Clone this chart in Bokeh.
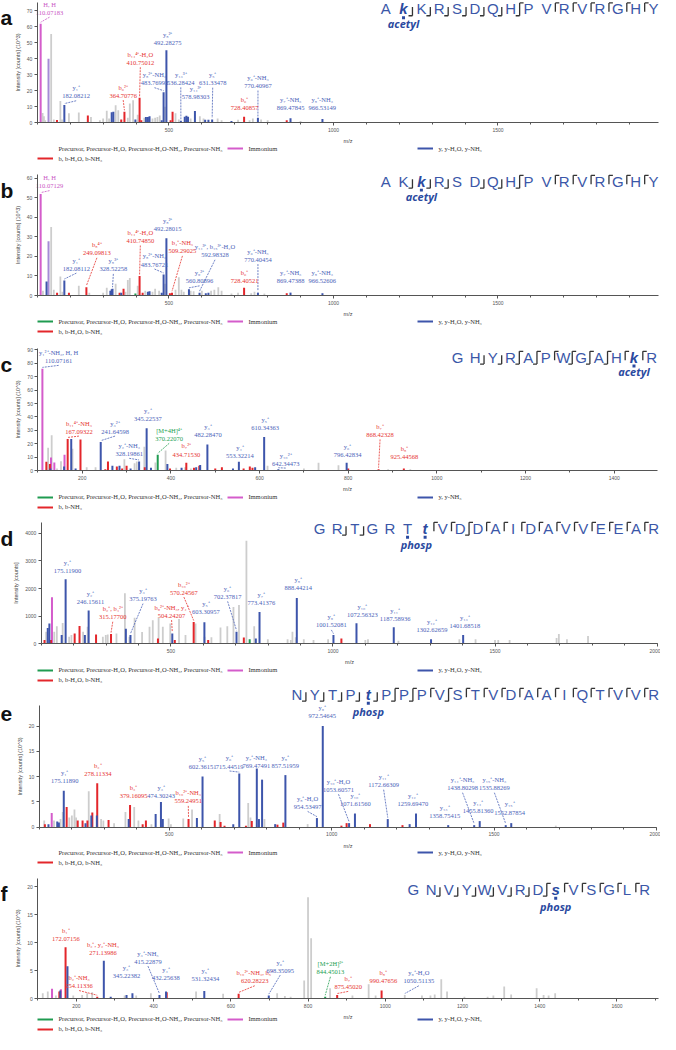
import numpy as np
from bokeh.plotting import figure
from bokeh.models import (Range1d, SingleIntervalTicker, Legend, LegendItem, ColumnDataSource)
from bokeh.layouts import column
from bokeh.embed import file_html
from bokeh.resources import INLINE
from bokeh.core.properties import value

# ======================= DATA =======================
# ion codes: g = unassigned, i = immonium, p = precursor, b = b ions, y = y ions, m = mixed
# ---------- panel a ----------
a_mz = [110.07, 116, 120, 124, 134, 142, 150, 159.7, 170, 175, 182.08, 196, 226, 253.5, 263, 290, 300,
        311, 318, 326, 331, 338, 346, 355, 364.71, 375, 381, 391, 398, 405, 410.75, 416, 425, 430, 436,
        441, 450, 458, 465, 472, 478, 483.77, 488, 492.28, 505, 511, 520, 530, 536.28, 548, 553, 558,
        566, 578.98, 594, 605, 610, 620, 631.33, 648, 660, 690, 710, 728.41, 745, 755, 770.41, 780,
        800, 858, 869.48, 900, 966.53]
a_int = [62, 6, 4, 1.5, 40, 55.5, 2, 1.6, 13.6, 2, 11, 5.8, 6.4, 4.5, 3.5, 1.5, 2.5,
         7.4, 2.5, 6.5, 6.8, 10.9, 7.8, 2, 6.8, 3, 11.9, 14, 2, 5, 15.6, 1.5, 3, 3.5, 3.5,
         4, 2.5, 3, 3.5, 4.5, 1.5, 19.1, 10, 45.3, 1.5, 6.8, 5.8, 2, 1.2, 3.7, 4.3, 3.7,
         2.5, 7.2, 4, 2.5, 1.8, 1.8, 2, 2.5, 1.5, 1, 1.8, 3.7, 1.5, 2.5, 3, 2,
         1.5, 1.5, 2.7, 1, 2.3]
a_ion = ["i", "g", "g", "g", "m", "g", "g", "b", "g", "g", "y", "g", "g", "b", "g", "g", "g",
         "g", "g", "y", "y", "g", "g", "b", "b", "g", "g", "g", "y", "g", "b", "b", "g", "y", "y",
         "y", "g", "g", "g", "g", "y", "y", "g", "y", "b", "b", "g", "g", "y", "y", "y", "y",
         "g", "y", "g", "g", "y", "y", "y", "g", "g", "y", "g", "b", "g", "g", "y", "g",
         "g", "b", "y", "g", "y"]
a_lab_text = ["H, H\n110.07183", "y₁⁺\n182.08212", "b₆²⁺\n364.70776", "b₁₄⁴⁺-H₂O\n410.75012",
              "y₈²⁺-NH₃\n483.76993", "y₈²⁺\n492.28275", "y₁₃³⁺\n536.28424", "y₁₄³⁺\n578.98303",
              "y₅⁺\n631.33478", "b₆⁺\n728.40857", "y₆⁺-NH₃\n770.40967", "y₇⁺-NH₃\n869.47845",
              "y₈⁺-NH₃\n966.53149"]
a_lab_mz = [110.07, 182.08, 364.71, 410.75, 483.77, 492.28, 536.28, 578.98, 631.33, 728.41, 770.41, 869.48, 966.53]
a_lab_ion = ["i", "y", "b", "b", "y", "y", "y", "y", "y", "b", "y", "y", "y"]
a_seq = "AkKRSDQHPVRVRGHY"
a_cuts = ".bbbbbbx.yyyyyy"
a_mod_name = "acetyl"

# ---------- panel b ----------
b_mz = [110.07, 117, 128, 134, 142, 150, 160, 170, 176, 182.08, 196, 226, 249.10, 258, 300, 311, 322,
        326, 328.52, 338, 350, 355, 362, 368, 375, 381, 398, 405, 410.75, 420, 428, 436, 441, 450,
        458, 470, 478, 483.77, 488, 492.28, 503, 509.29, 520, 530, 538, 545, 560.81, 566, 575,
        592.98, 600, 612, 620, 628, 638, 650, 660, 690, 710, 728.41, 750, 760, 770.45, 790, 858,
        869.47, 966.53]
b_int = [51.8, 2.5, 7.2, 27.7, 35, 3, 1.5, 9.7, 2, 7.7, 1.5, 5, 4.3, 1.5, 1.5, 4, 2.5,
         3.2, 3.5, 6, 1.5, 1.5, 3.5, 2, 8, 9, 1, 5, 10, 1.5, 2.5, 2, 2.2, 2,
         3.5, 2.5, 1.5, 10.8, 6, 29.3, 1.2, 1.5, 3, 9.3, 3, 2, 3.2, 2.5, 2.2,
         1.5, 2.5, 1.2, 1.5, 2.5, 3, 4.3, 2.5, 1, 1.5, 4, 1.2, 2, 1.5, 1, 1.2,
         1.5, 1.2]
b_ion = ["i", "g", "y", "m", "g", "g", "b", "g", "g", "y", "b", "g", "b", "g", "g", "g", "y",
         "y", "y", "g", "b", "y", "b", "g", "g", "g", "p", "g", "b", "b", "g", "y", "y", "g",
         "g", "g", "y", "y", "g", "y", "b", "b", "g", "g", "g", "g", "y", "g", "g",
         "y", "g", "y", "y", "g", "g", "g", "g", "g", "g", "b", "g", "g", "y", "g", "b",
         "y", "y"]
b_lab_text = ["H, H\n110.07129", "y₁⁺\n182.08112", "b₈⁴⁺\n249.09813", "y₈³⁺\n328.52258",
              "b₁₄⁴⁺-H₂O\n410.74850", "y₈²⁺-NH₃\n483.76721", "y₈²⁺\n492.28015", "b₄⁺-NH₃\n509.29025",
              "y₉²⁺\n560.80896", "y₁₄³⁺, b₁₅³⁺-H₂O\n592.98328", "b₆⁺\n728.40521",
              "y₆⁺-NH₃\n770.40454", "y₇⁺-NH₃\n869.47388", "y₈⁺-NH₃\n966.52606"]
b_lab_mz = [110.07, 182.08, 249.10, 328.52, 410.75, 483.77, 492.28, 509.29, 560.81, 592.98, 728.41,
            770.45, 869.47, 966.53]
b_lab_ion = ["i", "y", "b", "y", "b", "y", "y", "b", "y", "y", "b", "y", "y", "y"]
b_seq = "AKkRSDQHPVRVRGHY"
b_cuts = ".bbb.bbx.yyyyyy"
b_mod_name = "acetyl"

# ---------- panel c ----------
c_mz = [110.07, 119, 123, 127, 128, 129.5, 131, 137, 143, 152, 159, 160, 167.09, 175.12, 178, 185,
        196, 210, 230, 241.65, 252, 258, 268, 278, 284, 290, 295, 300, 309, 318, 323, 328.20, 340,
        341, 345.23, 355, 365, 370.22, 388, 392, 398, 412, 424, 432, 434.72, 445, 452, 457, 464,
        466, 482.28, 500, 515, 540, 553.32, 564, 578, 584, 590, 610.34, 618, 642.34, 700, 733,
        778, 796.43, 800, 868.42, 890, 925.45, 940]
c_int = [75.9, 6.6, 17, 4.9, 1.5, 9.7, 26.3, 6, 1.5, 7, 3, 11.7, 23.6, 23.6, 16.3, 1.5,
         23.1, 2.5, 2.5, 21.2, 1, 6.8, 3.5, 3, 3.5, 1.5, 8.5, 3.6, 1.5, 5.5, 6.8, 6.8, 17.8,
         2.5, 31.6, 2, 6, 11.7, 15, 4.9, 1.5, 2, 2, 2.5, 5.8, 1.5, 2, 2.5, 3.5,
         4.1, 19.5, 1.5, 2.5, 1.5, 6.6, 1.5, 3, 2, 2.5, 25, 3.5, 1, 1.5, 5.8,
         4, 5.8, 1.5, 1, 1, 1.5, 1]
c_ion = ["i", "b", "g", "b", "y", "i", "g", "i", "g", "g", "y", "i", "b", "y", "g", "y",
         "b", "g", "g", "y", "b", "b", "y", "b", "y", "b", "g", "b", "y", "g", "g", "y", "g",
         "b", "y", "y", "g", "p", "g", "y", "b", "g", "y", "g", "b", "g", "b", "y", "b",
         "y", "y", "b", "b", "y", "y", "b", "b", "b", "y", "y", "g", "y", "g", "g",
         "g", "y", "b", "b", "g", "b", "g"]
c_lab_text = ["y₁²⁺-NH₃, H, H\n110.07161", "b₁₁⁴⁺-NH₃\n167.09322", "y₃²⁺\n241.64598",
              "y₂⁺-NH₃\n328.19861", "y₂⁺\n345.22537", "[M+4H]⁴⁺\n370.22070", "b₇²⁺\n434.71530",
              "y₃⁺\n482.28470", "y₄⁺\n553.32214", "y₅⁺\n610.34363", "y₁₀²⁺\n642.34473",
              "y₆⁺\n796.42834", "b₇⁺\n868.42328", "b₈⁺\n925.44568"]
c_lab_mz = [110.07, 167.09, 241.65, 328.20, 345.23, 370.22, 434.72, 482.28, 553.32, 610.34, 642.34,
            796.43, 868.42, 925.45]
c_lab_ion = ["y", "b", "y", "y", "y", "p", "b", "y", "y", "y", "y", "y", "b", "b"]
c_seq = "GHYRAPWGAHkR"
c_cuts = ".bbxxyxxxyy"
c_mod_name = "acetyl"

# ---------- panel d ----------
d_mz = [110, 115, 120, 125, 130, 133, 140, 148, 163, 166, 175.12, 186, 193, 203, 218, 229, 234.5,
        243, 246.16, 269, 290, 299, 305, 315.18, 332, 358, 361, 372, 375.20, 388, 411, 434, 444,
        460, 462, 475, 498, 504.24, 512, 525, 545, 570.25, 576, 603.31, 604, 615, 625, 653, 674,
        693, 702.38, 710, 725, 733, 743, 757, 762, 773.41, 799, 860, 870, 875, 885, 888.44, 910,
        940, 985, 1001.52, 1026, 1072.56, 1100, 1108, 1187.59, 1202, 1302.63, 1390, 1401.69, 1440,
        1500, 1510, 1545, 1690, 1697, 1722, 1787]
d_int = [140, 440, 580, 740, 140, 1690, 440, 640, 320, 760, 2340, 260, 320, 380, 650, 440, 320,
         620, 1210, 345, 260, 320, 345, 356, 380, 1830, 546, 260, 320, 950, 430, 620, 860,
         200, 950, 620, 740, 380, 140, 900, 320, 795, 740, 784, 260, 140, 240, 594, 640,
         1330, 440, 1410, 230, 3730, 166, 640, 200, 1150, 170, 170, 140, 440, 240, 1660, 170,
         140, 170, 320, 200, 750, 140, 170, 606, 120, 166, 170, 320, 170,
         140, 140, 140, 215, 356, 170, 285]
d_ion = ["b", "g", "y", "y", "b", "i", "g", "g", "y", "g", "y", "g", "g", "b", "b", "g", "y",
         "g", "y", "b", "g", "g", "g", "b", "g", "g", "y", "g", "y", "g", "g", "g", "g",
         "b", "g", "g", "g", "y", "b", "g", "g", "b", "g", "y", "g", "b", "g", "g", "g",
         "g", "y", "g", "b", "g", "p", "g", "y", "y", "g", "g", "g", "g", "g", "y", "g",
         "g", "g", "y", "b", "y", "g", "g", "y", "g", "y", "g", "y", "g",
         "g", "g", "g", "g", "g", "g", "g"]
d_lab_text = ["y₁⁺\n175.11900", "y₂⁺\n246.15611", "b₂⁺, b₄²⁺\n315.17700", "y₃⁺\n375.19763",
              "b₉²⁺-NH₃, y₄⁺\n504.24207", "b₁₀²⁺\n570.24567", "y₅⁺\n603.30957", "y₆⁺\n702.37817",
              "y₇⁺\n773.41376", "y₈⁺\n888.44214", "y₉⁺\n1001.52081", "y₁₀⁺\n1072.56323",
              "y₁₁⁺\n1187.58936", "y₁₂⁺\n1302.62659", "y₁₃⁺\n1401.68518"]
d_lab_mz = [175.12, 246.16, 315.18, 375.20, 504.24, 570.25, 603.31, 702.38, 773.41, 888.44, 1001.52,
            1072.56, 1187.59, 1302.63, 1401.69]
d_lab_ion = ["y", "y", "b", "y", "b", "b", "y", "y", "y", "y", "y", "y", "y", "y", "y"]
d_seq = "GRTGRTtVDDAIDAVVEEAR"
d_cuts = ".bb...yyxyyyyyyyyyy"
d_mod_name = "phosp"

# ---------- panel e ----------
e_mz = [115, 117, 128, 138, 145, 155, 160, 165, 172, 175.12, 184, 192, 200, 208, 213, 218, 233, 242,
        248, 252, 260, 263, 277, 278.11, 290, 297, 313, 330, 365, 375, 379.16, 392, 405, 418, 428,
        445, 458, 474.30, 480, 498, 505, 543, 559.25, 570, 585, 602.36, 640, 655, 658, 670, 697,
        715.45, 736, 743, 750, 754, 769.47, 776, 785.7, 793, 826, 833, 851, 857.52, 926, 954.53,
        972.55, 1030, 1046, 1053.61, 1071.62, 1118, 1172.66, 1218, 1240, 1259.69, 1358.75,
        1438.80, 1455.81, 1535.88, 1552.88, 1690]
e_int = [1.3, 0.6, 0.6, 2.8, 1.3, 1.1, 0.9, 1.6, 3, 7.2, 4, 1.9, 2.3, 3.5, 1.9, 1.3, 1.3, 0.8,
         1.3, 7.1, 2.3, 2.9, 2.3, 8.7, 1.6, 1.3, 1.4, 0.8, 3, 1.6, 4.4, 4, 1.3, 0.6, 1.3,
         0.6, 2.6, 5, 1.6, 1.7, 0.6, 1.7, 1.6, 3.5, 1.8, 10, 1.3, 2.6, 1, 0.3, 0.6,
         10.6, 0.3, 4.8, 1.9, 1.2, 11.6, 1.6, 9.4, 1.6, 0.6, 0.5, 0.9, 10.3, 0.6, 1.8,
         20, 0.3, 0.8, 0.8, 2.7, 0.6, 1.6, 0.4, 0.6, 2.7, 0.4,
         0.4, 1.2, 0.4, 0.8, 0.3]
e_ion = ["g", "b", "y", "i", "g", "y", "y", "g", "g", "y", "b", "g", "g", "g", "g", "b", "b", "y",
         "b", "g", "y", "b", "y", "b", "g", "g", "b", "g", "g", "y", "b", "g", "g", "b", "b",
         "g", "y", "y", "y", "g", "g", "g", "b", "g", "y", "y", "b", "g", "b", "b", "y",
         "y", "b", "g", "g", "b", "y", "y", "y", "g", "y", "b", "b", "y", "g", "y",
         "y", "b", "b", "y", "y", "b", "y", "b", "y", "y", "y",
         "y", "y", "y", "y", "g"]
e_lab_text = ["y₁⁺\n175.11890", "b₂⁺\n278.11334", "b₃⁺\n379.16095", "y₃⁺\n474.30243",
              "b₁₀²⁺-NH₃\n559.24951", "y₅⁺\n602.36151", "y₆⁺\n715.44519", "y₇⁺-NH₃\n769.47491",
              "y₈⁺\n857.51959", "y₈⁺-H₂O\n954.53497", "y₉⁺\n972.54645", "y₁₀⁺-H₂O\n1053.60571",
              "y₁₀⁺\n1071.61560", "y₁₁⁺\n1172.66309", "y₁₂⁺\n1259.69470", "y₁₃⁺\n1358.75415",
              "y₁₄⁺-NH₃\n1438.80298", "y₁₄⁺\n1455.81360", "y₁₅⁺-NH₃\n1535.88269", "y₁₅⁺\n1552.87854"]
e_lab_mz = [175.12, 278.11, 379.16, 474.30, 559.25, 602.36, 715.45, 769.47, 857.52, 954.53, 972.55,
            1053.61, 1071.62, 1172.66, 1259.69, 1358.75, 1438.80, 1455.81, 1535.88, 1552.88]
e_lab_ion = ["y", "b", "b", "y", "b", "y", "y", "y", "y", "y", "y", "y", "y", "y", "y", "y",
             "y", "y", "y", "y"]
e_seq = "NYTPtPPPVSTVDAAIQTVVR"
e_cuts = "bbbbbxxyxyyyyyyyyyyy"
e_mod_name = "phosp"

# ---------- panel f ----------
f_mz = [113, 126, 137, 147, 156, 158.5, 160, 172.07, 177, 192, 215, 228, 241, 254.11, 271.14, 289,
        325, 330, 345.22, 355, 393, 415.23, 432.26, 434, 510, 531.32, 580, 620.28, 698.35, 720,
        740, 755, 790, 800, 808, 844.45, 857, 875.45, 915, 957, 975, 990.48, 1050.51, 1095, 1117,
        1128, 1145, 1160, 1205, 1265, 1280, 1308, 1326, 1392, 1410, 1423, 1440]
f_int = [1, 1.3, 1.8, 0.6, 1.3, 1.5, 1.7, 9.2, 5.8, 0.6, 0.7, 1, 1.2, 0.4, 6.8, 0.4,
         0.6, 0.7, 1, 0.6, 1, 0.7, 1.3, 1.2, 1.3, 1.4, 0.9, 0.9, 0.6, 1,
         0.5, 0.4, 3.3, 18.1, 10.8, 0.4, 1.9, 0.7, 0.6, 2.6, 0.6, 1.5, 0.7, 0.6, 0.6,
         0.8, 3.5, 1.3, 0.4, 0.4, 0.6, 2.2, 0.8, 1.9, 0.7, 0.6, 1]
f_ion = ["g", "g", "i", "g", "b", "y", "i", "b", "y", "g", "g", "g", "g", "b", "y", "y",
         "g", "y", "y", "g", "g", "y", "y", "b", "g", "y", "g", "b", "y", "g",
         "g", "g", "g", "g", "g", "p", "g", "b", "g", "g", "g", "b", "g", "g", "g",
         "g", "g", "g", "g", "g", "g", "g", "g", "g", "g", "g", "g"]
f_lab_text = ["b₁⁺\n172.07156", "b₂⁺-NH₃\n254.11336", "b₂⁺, y₂⁺-NH₃\n271.13986", "y₃⁺\n345.22382",
              "y₃⁺-NH₃\n415.22879", "y₄⁺\n432.25638", "y₅⁺\n531.32434", "b₁₀²⁺-NH₃, b₅⁺\n620.28223",
              "y₆⁺\n698.35095", "[M+2H]²⁺\n844.45013", "b₇⁺\n875.45020", "b₈⁺\n990.47656",
              "y₉⁺-H₂O\n1050.51135"]
f_lab_mz = [172.07, 254.11, 271.14, 345.22, 415.23, 432.26, 531.32, 620.28, 698.35, 844.45, 875.45,
            990.48, 1050.51]
f_lab_ion = ["b", "b", "b", "y", "y", "y", "y", "b", "y", "p", "b", "b", "y"]
f_seq = "GNVYWVRDsVSGLR"
f_cuts = ".bbbbbbxyyyyy"
f_mod_name = "phosp"

# ======================= LAYOUT (label anchors, panel geometry) =======================
a_lab_x = [137, 218, 361, 413, 456, 496, 536, 581, 633, 730, 770.6, 870, 966]
a_lab_y = [67, 14.6, 15, 35.6, 22.8, 48, 23, 14, 22.8, 7.2, 21, 7.2, 7.2]
a_lab_link = [1, 1, 1, 1, 1, 0, 1, 0, 1, 0, 1, 0, 0]
b_lab_x = [137, 218.6, 281, 331, 413, 456, 496, 541, 593, 640, 730, 770.5, 870, 966]
b_lab_y = [54.3, 12.2, 20, 11.8, 26.3, 14.3, 32.2, 21, 5.7, 19, 6, 16.8, 6, 6]
b_lab_link = [1, 1, 1, 1, 1, 1, 0, 1, 1, 1, 0, 1, 0, 0]
c_lab_x = [146.7, 192.6, 274, 306, 348, 396, 434.8, 483.7, 555.6, 612.6, 659, 798.5, 871.8, 926.7]
c_lab_y = [79.6, 26.8, 26.8, 10.2, 36, 21.4, 9.7, 24.3, 8.5, 29.2, 2.9, 9.2, 24.3, 7.8]
c_lab_link = [1, 1, 1, 1, 0, 1, 0, 0, 0, 0, 1, 0, 1, 0]
d_lab_x = [180.8, 252, 320.6, 414, 502, 540, 608, 675, 779, 893, 995, 1090.6, 1192, 1305.5, 1407]
d_lab_y = [2540, 1390, 855, 1510, 915, 1746, 1033, 1590, 1354, 1900, 560, 938, 796, 380, 522]
d_lab_link = [0, 0, 1, 1, 1, 1, 0, 1, 0, 0, 1, 0, 0, 0, 0]
e_lab_x = [178, 280, 390, 475, 558.5, 602.5, 685.6, 768, 857, 926, 971, 1021, 1073, 1160, 1250,
           1348, 1403, 1451, 1501, 1548]
e_lab_y = [8.5, 9.9, 5.5, 5.5, 4.5, 11.3, 11.4, 11.5, 11.5, 3.4, 21.3, 6.8, 3.9, 7.7, 3.9, 1.6,
           7.1, 2.6, 7.1, 2.3]
e_lab_link = [0, 0, 0, 0, 1, 0, 1, 0, 0, 1, 0, 1, 0, 1, 0, 0, 1, 0, 1, 0]
f_lab_x = [172.8, 207, 269, 330, 385.4, 432, 534, 662, 728, 858, 904, 995, 1087]
f_lab_y = [10.1, 1.75, 7.6, 3.5, 6.1, 3.2, 3.0, 2.6, 4.5, 4.2, 1.6, 2.6, 2.6]
f_lab_link = [0, 1, 0, 0, 1, 0, 0, 1, 1, 1, 1, 0, 1]

W = 660
PEAK_COL = {"g": "#cdcdcd", "m": "#a58cd6", "i": "#d45ccb", "p": "#1f9b50", "b": "#e3262b", "y": "#3d55ab"}
TXT_COL = {"y": "#4a62b8", "b": "#e6332f", "i": "#c955c4", "p": "#22a050"}
PREC = "Precursor, Precursor-H₂O, Precursor-H₂O-NH₃, Precursor-NH₃"
SEQ_COL = "#3b57a8"
MOD_COL = "#2b4aa0"


def make_panel(tag, data, labels, seq_info, geo, y_label, leg_y, leg_b):
    mz, inten, ion = data
    lab_text, lab_mz, lab_ion, lab_x, lab_y, lab_link = labels
    seq, cuts, mod_name = seq_info
    (ref_h, Hp, x0, k, x_end, x_step, YT, YB, y_top, y_step,
     tag_y, seq_x0, seq_x1, seq_y, mod_dy, leg_row) = geo
    s = Hp / ref_h
    dpp = y_top / (YB - YT)
    p = figure(width=W, height=Hp,
               x_range=Range1d((2 - x0) / k, (672 - x0) / k),
               y_range=Range1d(-(ref_h - YB) * dpp, y_top + YT * dpp),
               output_backend="svg", toolbar_location=None, title=None, min_border=0)
    # reference-pixel coordinate system for annotations (x right, y down)
    p.extra_x_ranges = {"rx": Range1d(2, 672)}
    p.extra_y_ranges = {"ry": Range1d(ref_h, 0)}
    p.xgrid.grid_line_color = None
    p.ygrid.grid_line_color = None
    p.outline_line_color = None

    mz_a = np.asarray(mz, dtype=float)
    in_a = np.asarray(inten, dtype=float)
    ion_a = np.asarray(ion)
    rend = {}
    for kk in ["g", "m", "i", "p", "b", "y"]:
        sel = ion_a == kk
        src = ColumnDataSource(dict(x=mz_a[sel], y=in_a[sel]))
        rend[kk] = p.segment(x0="x", y0=0, x1="x", y1="y", source=src,
                             line_color=PEAK_COL[kk], line_width=1.8 if kk == "g" else 2.0)

    # connectors between labels and peaks
    pad = 0.012 * y_top
    cx0, cy0, cx1, cy1, cc = [], [], [], [], []
    for m, kk, lx, ly, lk in zip(lab_mz, lab_ion, lab_x, lab_y, lab_link):
        if lk:
            top = in_a[int(np.argmin(np.abs(mz_a - m)))]
            cx0.append(lx); cy0.append(ly - pad); cx1.append(m); cy1.append(top + pad)
            cc.append(TXT_COL[kk])
    p.segment(x0=cx0, y0=cy0, x1=cx1, y1=cy1, line_color=cc, line_width=0.8, line_dash="2 1")

    lsrc = ColumnDataSource(dict(x=lab_x, y=lab_y, t=lab_text, c=[TXT_COL[kk] for kk in lab_ion]))
    p.text("x", "y", "t", source=lsrc, text_color="c", text_align="center",
           text_baseline="bottom", text_font=value("Liberation Serif"),
           text_font_size="6.5px", text_line_height=1.15)

    # peptide sequence with fragment markers
    n = len(seq)
    step = (seq_x1 - seq_x0) / (n - 1)
    xs = [seq_x0 + i * step for i in range(n)]
    yc = seq_y
    plain = [i for i, ch in enumerate(seq) if not ch.islower()]
    mods = [i for i, ch in enumerate(seq) if ch.islower()]
    kw = dict(x_range_name="rx", y_range_name="ry")
    p.text(x=[xs[i] for i in plain], y=[yc] * len(plain), text=[seq[i] for i in plain],
           text_font=value("Liberation Sans"), text_font_size="15px", text_align="center",
           text_baseline="middle", text_color=SEQ_COL, **kw)
    p.text(x=[xs[i] for i in mods], y=[yc] * len(mods), text=[seq[i] for i in mods],
           text_font=value("Liberation Sans"), text_font_size="15px",
           text_font_style="bold italic", text_align="center", text_baseline="middle",
           text_color=MOD_COL, **kw)
    bx0, by0, bx1, by1 = [], [], [], []
    for i, c in enumerate(cuts):
        xg = (xs[i] + xs[i + 1]) / 2
        if c == "b":
            bx0 += [xg, xg]; by0 += [yc - 2, yc + 7]; bx1 += [xg, xg - 4]; by1 += [yc + 7, yc + 7]
        elif c == "y":
            bx0 += [xg, xg]; by0 += [yc - 6, yc - 6]; bx1 += [xg, xg + 4]; by1 += [yc + 3, yc - 6]
        elif c == "x":
            bx0 += [xg, xg, xg]; by0 += [yc - 6, yc - 6, yc + 7]
            bx1 += [xg, xg + 4, xg - 4]; by1 += [yc + 7, yc - 6, yc + 7]
    p.segment(x0=bx0, y0=by0, x1=bx1, y1=by1, line_color="#333333", line_width=1.3, **kw)
    mk = list(mods)
    if tag == "d":
        mk = [mods[0] - 1, mods[0]]
    p.segment(x0=[xs[i] for i in mk], y0=[yc + 7.5] * len(mk), x1=[xs[i] for i in mk],
              y1=[yc + 10.5] * len(mk), line_color=MOD_COL, line_width=3, **kw)
    p.text(x=[float(np.mean([xs[i] for i in mk]))], y=[yc + mod_dy], text=[mod_name],
           text_font=value("Open Sans"), text_font_size="11px", text_font_style="bold italic",
           text_align="center", text_baseline="middle", text_color=MOD_COL, **kw)

    # panel tag (baseline position)
    p.text(x=[2], y=[tag_y], text=[tag], text_font=value("Liberation Sans"),
           text_font_size="21px", text_font_style="bold", text_align="left",
           text_baseline="alphabetic", text_color="#111111", **kw)

    # axes drawn at data locations
    p.xaxis.fixed_location = 0
    p.yaxis.fixed_location = 100
    p.xaxis.bounds = (100, x_end)
    p.yaxis.bounds = (0, y_top)
    p.xaxis.ticker = SingleIntervalTicker(interval=x_step, num_minor_ticks=x_step // 100)
    p.yaxis.ticker = SingleIntervalTicker(interval=y_step, num_minor_ticks=0)
    p.xaxis.axis_label = "m/z"
    p.yaxis.axis_label = y_label
    for ax in p.axis:
        ax.axis_line_color = "#555555"
        ax.major_tick_line_color = "#555555"
        ax.minor_tick_line_color = "#555555"
        ax.major_label_text_font = "Liberation Sans"
        ax.major_label_text_font_size = "5px"
        ax.major_label_text_color = "#555555"
        ax.axis_label_text_font = "Liberation Sans"
        ax.axis_label_text_font_size = "5.5px"
        ax.axis_label_text_font_style = "normal"
        ax.axis_label_text_color = "#444444"
        ax.major_tick_out = 3
        ax.major_tick_in = 0
        ax.minor_tick_out = 2
        ax.minor_tick_in = 0
        ax.major_label_standoff = 2
        ax.axis_label_standoff = 3
    p.yaxis.minor_tick_line_color = None

    # legend below the x axis
    items = [LegendItem(label=PREC, renderers=[rend["p"]]),
             LegendItem(label="Immonium", renderers=[rend["i"]]),
             LegendItem(label=leg_y, renderers=[rend["y"]]),
             LegendItem(label=leg_b, renderers=[rend["b"]])]
    leg_top = leg_row * s - 6
    leg_bottom = leg_top + 22
    leg = Legend(items=items, orientation="horizontal", ncols=3,
                 location=((42 - 2) * 0.985 - 2, Hp - leg_bottom),
                 border_line_color=None, background_fill_alpha=0,
                 label_text_font="Liberation Serif", label_text_font_size="6.5px",
                 label_text_color="#333333", glyph_width=16, glyph_height=8,
                 label_height=8, label_standoff=5, spacing=2, padding=2, margin=0,
                 label_width=167)
    p.add_layout(leg)
    return p


YL3 = "Intensity [counts] (10^3)"
LY = "y, y-H₂O, y-NH₃"
LB = "b, b-H₂O, b-NH₃"
# geo: ref_h, Hp, x0, k, x_end, x_step, YT, YB, y_top, y_step, tag_y, seq_x0, seq_x1, seq_y, mod_dy, leg_row
pa = make_panel("a", (a_mz, a_int, a_ion),
                (a_lab_text, a_lab_mz, a_lab_ion, a_lab_x, a_lab_y, a_lab_link),
                (a_seq, a_cuts, a_mod_name),
                (170, 167, 6, 0.334, 1988, 500, 1.7, 124.3, 75.5, 10, 17, 393, 665, 8.5, 15, 149),
                YL3, LY, LB)
pb = make_panel("b", (b_mz, b_int, b_ion),
                (b_lab_text, b_lab_mz, b_lab_ion, b_lab_x, b_lab_y, b_lab_link),
                (b_seq, b_cuts, b_mod_name),
                (175, 172, 6, 0.334, 1988, 500, 6.7, 130.3, 62, 10, 23, 393, 665, 14, 15, 155),
                YL3, LY, LB)
pc = make_panel("c", (c_mz, c_int, c_ion),
                (c_lab_text, c_lab_mz, c_lab_ion, c_lab_x, c_lab_y, c_lab_link),
                (c_seq, c_cuts, c_mod_name),
                (175, 172, -5, 0.45, 1497, 200, 9.3, 133.3, 91, 10, 25, 466, 663, 18, 15, 158.3),
                YL3, "y, y-NH₃", "b, b-NH₃")
pd_ = make_panel("d", (d_mz, d_int, d_ion),
                 (d_lab_text, d_lab_mz, d_lab_ion, d_lab_x, d_lab_y, d_lab_link),
                 (d_seq, d_cuts, d_mod_name),
                 (174, 172, 10.5, 0.329, 2000, 500, 10.7, 134, 4400, 1000, 27, 326, 665, 17, 16, 158.7),
                 "Intensity [counts]", LY, LB)
pe = make_panel("e", (e_mz, e_int, e_ion),
                (e_lab_text, e_lab_mz, e_lab_ion, e_lab_x, e_lab_y, e_lab_link),
                (e_seq, e_cuts, e_mod_name),
                (188, 185, 8.5, 0.3297, 2000, 500, 22.7, 146, 24, 5, 31, 303, 665, 11, 17, 170),
                YL3, LY, LB)
pf = make_panel("f", (f_mz, f_int, f_ion),
                (f_lab_text, f_lab_mz, f_lab_ion, f_lab_x, f_lab_y, f_lab_link),
                (f_seq, f_cuts, f_mod_name),
                (168, 166, 0.6, 0.392, 1707, 200, 9.7, 132, 21.5, 5, 25, 421, 656, 21, 17, 150.7),
                YL3, LY, LB)

layout = column(pa, pb, pc, pd_, pe, pf, spacing=0)
open("out.html", "w").write(file_html(layout, INLINE))
